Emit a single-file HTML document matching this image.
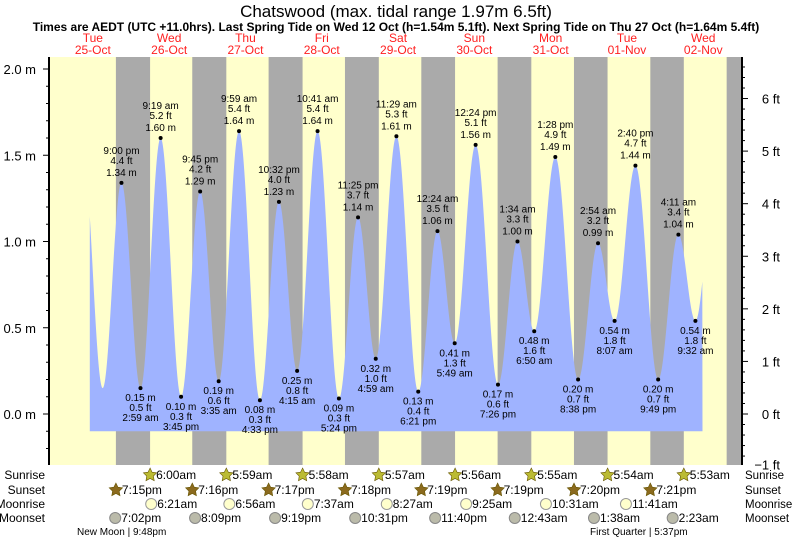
<!DOCTYPE html>
<html><head><meta charset="utf-8"><style>
body{margin:0;background:#fff;font-family:"Liberation Sans",sans-serif}
svg{display:block}
</style></head><body>
<svg id="c" width="793" height="539" xmlns="http://www.w3.org/2000/svg" font-family="Liberation Sans, sans-serif">
<text x="396" y="17" font-size="17" text-anchor="middle">Chatswood (max. tidal range 1.97m 6.5ft)</text>
<text x="396" y="31" font-size="12" font-weight="bold" text-anchor="middle">Times are AEDT (UTC +11.0hrs). Last Spring Tide on Wed 12 Oct (h=1.54m 5.1ft). Next Spring Tide on Thu 27 Oct (h=1.64m 5.4ft)</text>
<g id="bg"></g><g id="tide"></g><g id="marks"></g><g id="axes"></g><g id="bottom"></g>
</svg>
<script>
const NS='http://www.w3.org/2000/svg';
// tide extremes: day offset from 25-Oct, time, height m
const tideDays=[0,0,0,1,1,1,1,2,2,2,2,3,3,3,3,4,4,4,5,5,5,5,6,6,6,6,7,7,7,7,8,8,8];
const tideTimes=["8:45 am","3:05 pm","9:00 pm","2:59 am","9:19 am","3:45 pm","9:45 pm","3:35 am","9:59 am","4:33 pm","10:32 pm","4:15 am","10:41 am","5:24 pm","11:25 pm","4:59 am","11:29 am","6:21 pm","12:24 am","5:49 am","12:24 pm","7:26 pm","1:34 am","6:50 am","1:28 pm","8:38 pm","2:54 am","8:07 am","2:40 pm","9:49 pm","4:11 am","9:32 am","3:50 pm"];
const tideHeights=[1.55,0.15,1.34,0.15,1.60,0.10,1.29,0.19,1.64,0.08,1.23,0.25,1.64,0.09,1.14,0.32,1.61,0.13,1.06,0.41,1.56,0.17,1.00,0.48,1.49,0.20,0.99,0.54,1.44,0.20,1.04,0.54,1.40];
const dataStart=0.46, dataEnd=8.49;
const days=["Tue","Wed","Thu","Fri","Sat","Sun","Mon","Tue","Wed"];
const dates=["25-Oct","26-Oct","27-Oct","28-Oct","29-Oct","30-Oct","31-Oct","01-Nov","02-Nov"];
const sunriseDays=[1,2,3,4,5,6,7,8];
const sunriseTimes=["6:00am","5:59am","5:58am","5:57am","5:56am","5:55am","5:54am","5:53am"];
const sunsetDays=[0,1,2,3,4,5,6,7,8];
const sunsetTimes=["7:15pm","7:16pm","7:17pm","7:18pm","7:19pm","7:19pm","7:20pm","7:21pm","7:22pm"];
const moonriseDays=[1,2,3,4,5,6,7];
const moonriseTimes=["6:21am","6:56am","7:37am","8:27am","9:25am","10:31am","11:41am"];
const moonsetDays=[0,1,2,3,4,6,7,8];
const moonsetTimes=["7:02pm","8:09pm","9:19pm","10:31pm","11:40pm","12:43am","1:38am","2:23am"];
const mTicks=[0,0.5,1.0,1.5,2.0];
const ftTicks=[-1,0,1,2,3,4,5,6];

const X0=49,X1=742,Y0=57,Y1=465;
const xs=d=>54.7+d*76.3;
const ys=m=>414-m*172.5;
const yft=f=>ys(f*0.3048);
function hr(t){const p=t.slice(-2);let [h,m]=t.replace(/\s*(am|pm)$/,'').split(':').map(Number);if(p==='pm'&&h!==12)h+=12;if(p==='am'&&h===12)h=0;return (h+m/60)/24;}
function el(tag,attrs,parent,name,inter){const e=document.createElementNS(NS,tag);for(const k in attrs)e.setAttribute(k,attrs[k]);


parent.appendChild(e);return e;}
function txt(x,y,s,size,anchor,fill,parent,name){const t=el('text',{x:x,y:y,'font-size':size,'text-anchor':anchor,fill:fill},parent,name);t.textContent=s;return t;}
const bg=document.getElementById('bg'),tide=document.getElementById('tide'),marks=document.getElementById('marks'),axes=document.getElementById('axes'),bot=document.getElementById('bottom');
el('rect',{x:X0,y:Y0,width:X1-X0,height:Y1-Y0,fill:'#ffffcc'},bg,'day-background');
for(let i=0;i<sunsetDays.length;i++){
 const s=sunsetDays[i]+hr(sunsetTimes[i]);
 const ri=sunriseDays.indexOf(sunsetDays[i]+1);
 const r=ri>=0?sunriseDays[ri]+hr(sunriseTimes[ri]):9.3;
 const a=Math.max(X0,xs(s)),b=Math.min(X1,xs(r));
 if(b>a)el('rect',{x:a,y:Y0,width:b-a,height:Y1-Y0,fill:'#aaaaaa'},bg,'night-band');
}
const pts=tideTimes.map((t,i)=>[tideDays[i]+hr(t),tideHeights[i]]);
function hAt(d){for(let i=0;i<pts.length-1;i++){if(d>=pts[i][0]&&d<=pts[i+1][0]){const f=(d-pts[i][0])/(pts[i+1][0]-pts[i][0]);return pts[i][1]+(pts[i+1][1]-pts[i][1])*(1-Math.cos(Math.PI*f))/2;}}return pts[pts.length-1][1];}
let path='M'+xs(dataStart)+','+ys(-0.1);
for(let x=xs(dataStart);x<=xs(dataEnd);x+=0.5){path+=' L'+x.toFixed(1)+','+ys(hAt((x-54.7)/76.3)).toFixed(1);}
path+=' L'+xs(dataEnd)+','+ys(-0.1)+' Z';
el('path',{d:path,fill:'#9fb3ff'},tide,'tide-area');
for(let i=2;i<pts.length-1;i++){
 const [d,h]=pts[i];const x=xs(d),y=ys(h);
 el('circle',{cx:x,cy:y,r:2,fill:'#000'},marks,'tide-point');
 const ft=(h/0.3048).toFixed(1)+' ft',m=h.toFixed(2)+' m';
 const high=h>pts[i-1][1];
 if(high){txt(x,y-29,tideTimes[i],10,'middle','#000',marks,'high-tide-time');txt(x,y-19,ft,10,'middle','#000',marks,'high-tide-ft');txt(x,y-7,m,10,'middle','#000',marks,'high-tide-m');}
 else{txt(x,y+13,m,10,'middle','#000',marks,'low-tide-m');txt(x,y+23,ft,10,'middle','#000',marks,'low-tide-ft');txt(x,y+33,tideTimes[i],10,'middle','#000',marks,'low-tide-time');}
}
for(let i=0;i<days.length;i++){const x=xs(i+0.5);txt(x,42,days[i],12,'middle','#ff2020',axes,'day-label');txt(x,54,dates[i],12,'middle','#ff2020',axes,'date-label');}
el('line',{x1:X0,y1:Y0,x2:X0,y2:Y1,stroke:'#000','stroke-width':2},axes,'y-axis-left');
el('line',{x1:X1,y1:Y0,x2:X1,y2:Y1,stroke:'#000','stroke-width':2},axes,'y-axis-right');
for(let v=-0.2;v<=2.25;v+=0.1){const y=ys(v);if(y<Y0||y>Y1)continue;el('line',{x1:X0-(Math.abs(v*2-Math.round(v*2))<0.01?6:3),y1:y,x2:X0,y2:y,stroke:'#000'},axes,'tick-m');}
mTicks.forEach(v=>txt(36,ys(v)+5,v.toFixed(1)+' m',13,'end','#000',axes,'y-tick-label'));
for(let f=-1;f<=6.9;f+=0.2){const y=yft(f);if(y<Y0||y>Y1+1)continue;el('line',{x1:X1,y1:y,x2:X1+(Math.abs(f-Math.round(f))<0.01?6:3),y2:y,stroke:'#000'},axes,'tick-ft');}
ftTicks.forEach(f=>txt(780,yft(f)+(f===-1?3:5),(f<0?'\u2212'+(-f):f)+' ft',13,'end','#000',axes,'y2-tick-label'));
const rows=[['Sunrise',479],['Sunset',494],['Moonrise',508],['Moonset',522]];
rows.forEach(r=>{txt(45,r[1],r[0],12,'end','#000',bot,'row-label');txt(745,r[1],r[0],11.5,'start','#000',bot,'row-label-right');});
function star(x,y,fill,name){let p='';for(let k=0;k<10;k++){const a=-Math.PI/2+k*Math.PI/5,rr=k%2?3.5:7;p+=(k?'L':'M')+(x+rr*Math.cos(a)).toFixed(1)+','+(y+rr*Math.sin(a)).toFixed(1);}el('path',{d:p+'Z',fill:fill,stroke:'#665500','stroke-width':0.6},bot,name);}
sunriseDays.forEach((d,i)=>{const x=xs(d+hr(sunriseTimes[i]));if(x>X1)return;star(x,475,'#bbbb33','sunrise-icon');txt(x+6,479,sunriseTimes[i],12,'start','#000',bot,'sunrise-time');});
sunsetDays.forEach((d,i)=>{const x=xs(d+hr(sunsetTimes[i]));if(x>X1-30)return;star(x,490,'#8b6a1e','sunset-icon');txt(x+6,494,sunsetTimes[i],12,'start','#000',bot,'sunset-time');});
moonriseDays.forEach((d,i)=>{const x=xs(d+hr(moonriseTimes[i]));el('circle',{cx:x,cy:504,r:5.5,fill:'#ffffcc',stroke:'#999'},bot,'moonrise-icon');txt(x+6,508,moonriseTimes[i],12,'start','#000',bot,'moonrise-time');});
moonsetDays.forEach((d,i)=>{const x=xs(d+hr(moonsetTimes[i]));el('circle',{cx:x,cy:518,r:5.5,fill:'#bbbbaa',stroke:'#888'},bot,'moonset-icon');txt(x+6,522,moonsetTimes[i],12,'start','#000',bot,'moonset-time');});
txt(77,535,'New Moon | 9:48pm',10,'start','#000',bot,'new-moon-label');
txt(590,535,'First Quarter | 5:37pm',10,'start','#000',bot,'first-quarter-label');
</script>
</body></html>
